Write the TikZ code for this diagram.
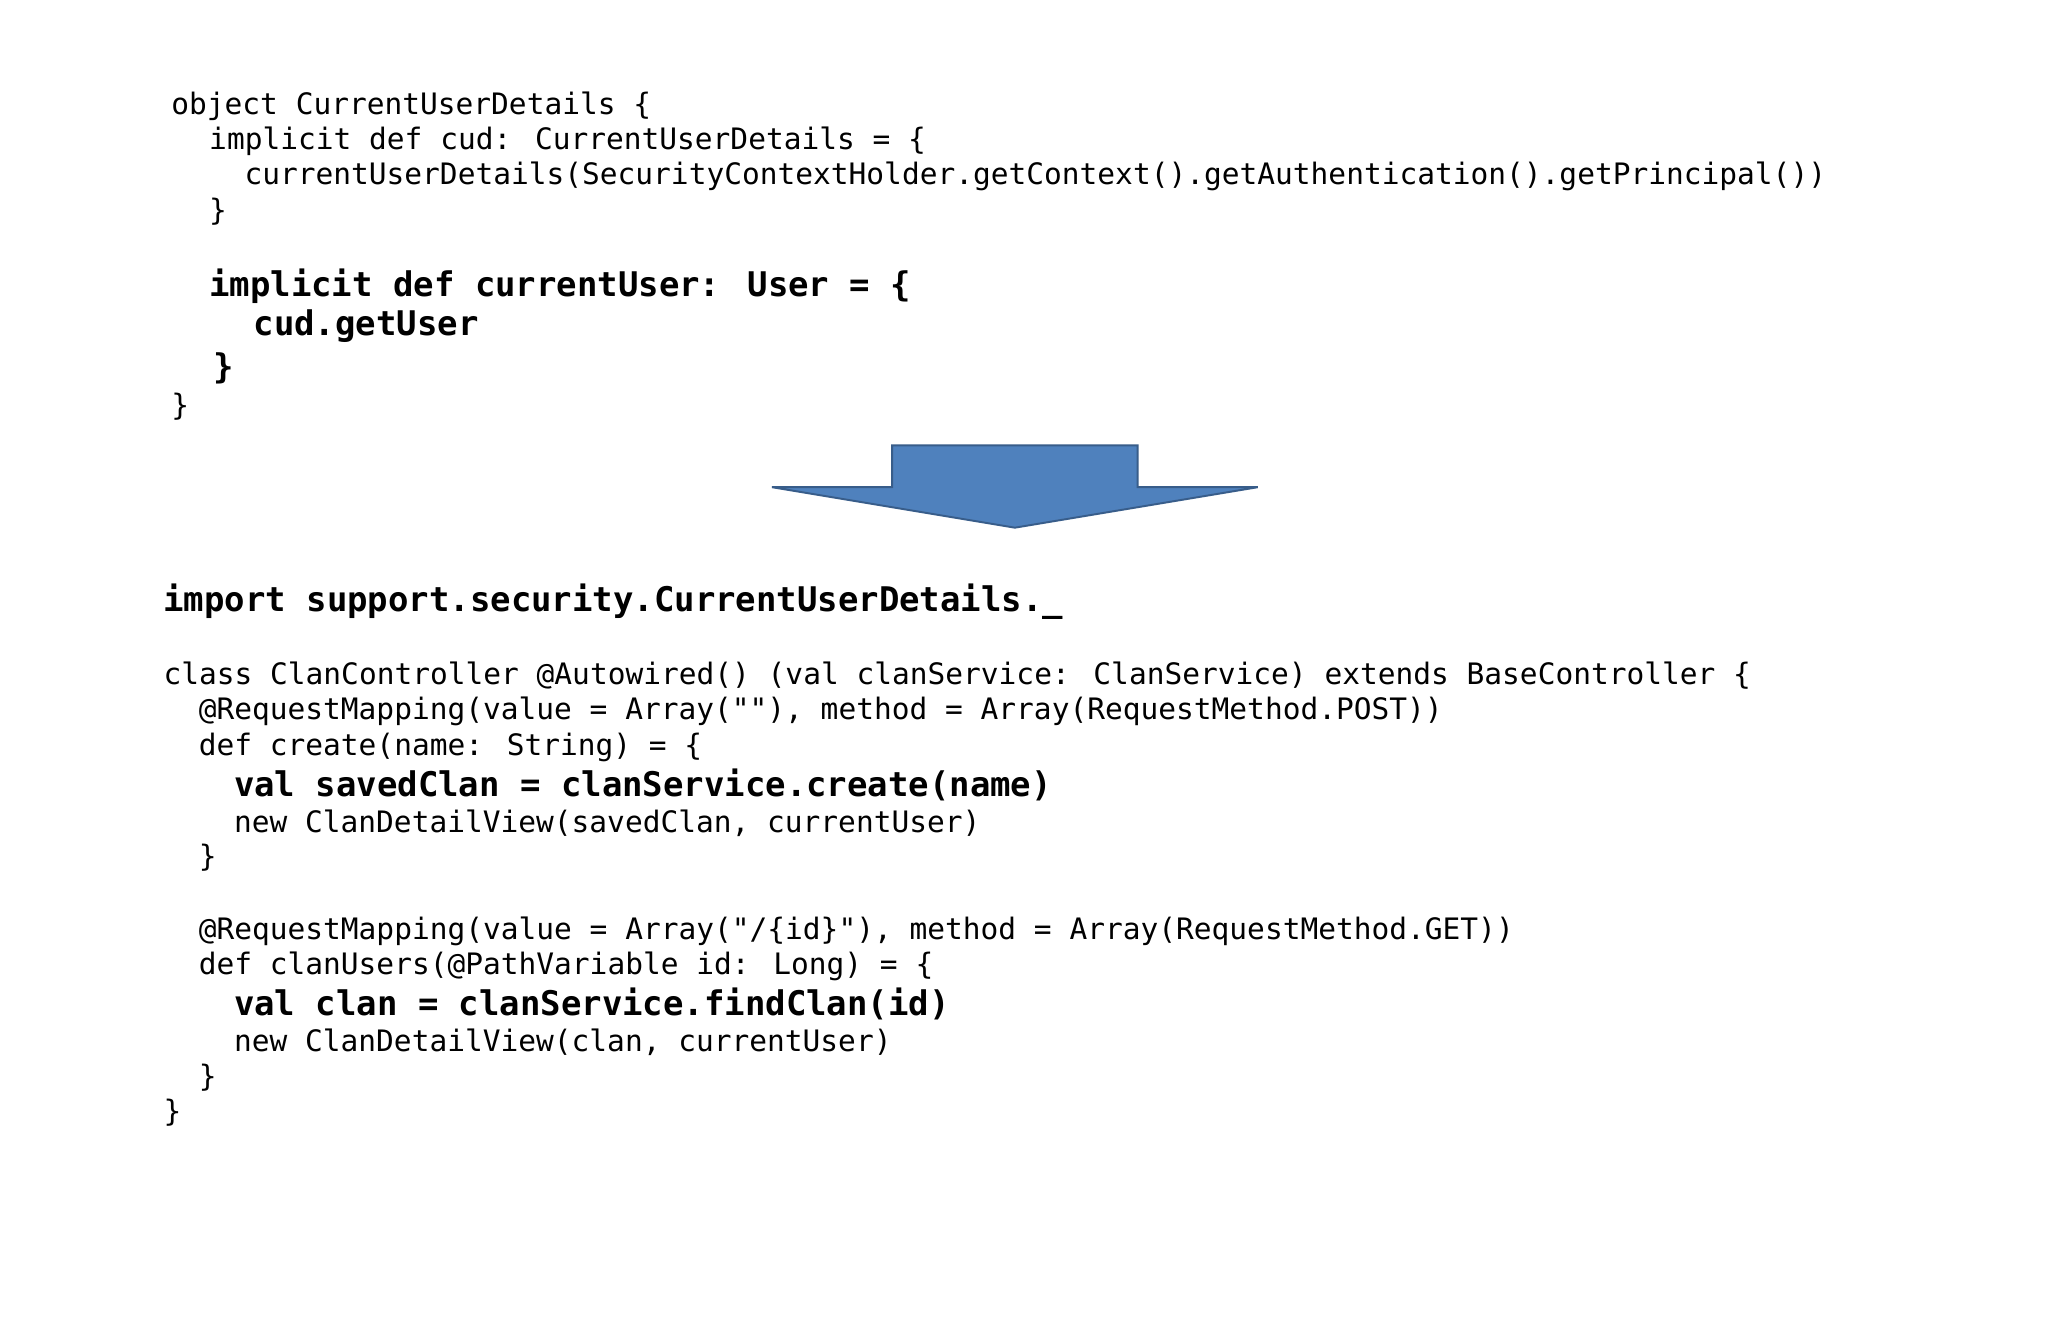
\documentclass[tikz,border=0pt]{standalone}
\usepackage{fontspec}
\newfontfamily\code{DejaVu Sans Mono}
\begin{document}
\begin{tikzpicture}[x=1pt,y=-1pt,
  c/.style={anchor=west,inner sep=0pt,font=\code\fontsize{22.6}{26}\selectfont},
  b/.style={anchor=west,inner sep=0pt,font=\code\bfseries\fontsize{26}{30}\selectfont}]
\useasboundingbox[fill=white] (0,0) rectangle (1568,1015);
\node[c] (t1) at (131,81) {object CurrentUserDetails \{};
\node[c] (t2) at (160,108) {implicit def cud: CurrentUserDetails = \{};
\node[c] (t3) at (187,135) {currentUserDetails(SecurityContextHolder.getContext().getAuthentication().getPrincipal())};
\node[c] (t4) at (160,162) {\}};
\node[b] (t5) at (160,219) {implicit def currentUser: User = \{};
\node[b] (t6) at (194,250) {cud.getUser};
\node[b] (t7) at (163,282) {\}};
\node[c] (t8) at (131,311) {\}};
\draw[fill=blue!40!cyan!20!black!0, fill={rgb,255:red,79;green,129;blue,189}, draw={rgb,255:red,56;green,93;blue,138}, line width=1.5pt]
  (591,373) -- (683,373) -- (683,341) -- (871,341) -- (871,373) -- (963,373) -- (777,404) -- cycle;
\node[b] (m1) at (125,461) {import support.security.CurrentUserDetails.\_};
\node[c] (m2) at (125,517) {class ClanController @Autowired() (val clanService: ClanService) extends BaseController \{};
\node[c] (m3) at (152,545) {@RequestMapping(value = Array(""), method = Array(RequestMethod.POST))};
\node[c] (m4) at (152,572) {def create(name: String) = \{};
\node[b] (m5) at (179,601) {val savedClan = clanService.create(name)};
\node[c] (m6) at (179,630) {new ClanDetailView(savedClan, currentUser)};
\node[c] (m7) at (152,657) {\}};
\node[c] (m8) at (152,713) {@RequestMapping(value = Array("/\{id\}"), method = Array(RequestMethod.GET))};
\node[c] (m9) at (152,740) {def clanUsers(@PathVariable id: Long) = \{};
\node[b] (m10) at (179,769) {val clan = clanService.findClan(id)};
\node[c] (m11) at (179,798) {new ClanDetailView(clan, currentUser)};
\node[c] (m12) at (152,825) {\}};
\node[c] (m13) at (125,852) {\}};
\end{tikzpicture}
\end{document}
